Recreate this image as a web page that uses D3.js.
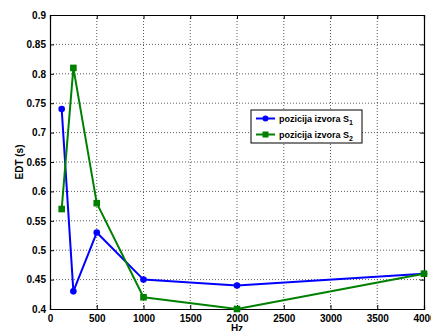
<!DOCTYPE html>
<html>
<head>
<meta charset="utf-8">
<script src="https://cdn.jsdelivr.net/npm/d3@7"></script>
<style>
  html, body { margin: 0; padding: 0; background: #fff; }
  svg { display: block; }
  text { font-family: "Liberation Sans", Arial, Helvetica, sans-serif; font-weight: bold; fill: #000; }
</style>
</head>
<body>
<svg id="chart" width="431" height="331"></svg>
<script>
// Frequencies (Hz) and early decay times (s) per source position
const frequencies = [125, 250, 500, 1000, 2000, 4000];
const edtS1 = [0.74, 0.43, 0.53, 0.45, 0.44, 0.46];
const edtS2 = [0.57, 0.81, 0.58, 0.42, 0.40, 0.46];
const xTicks = [0, 500, 1000, 1500, 2000, 2500, 3000, 3500, 4000];
const yTicks = [0.4, 0.45, 0.5, 0.55, 0.6, 0.65, 0.7, 0.75, 0.8, 0.85, 0.9];
const seriesNames = ["pozicija izvora S", "pozicija izvora S"];
const seriesSubs = ["1", "2"];
const seriesColors = ["#0000ff", "#008000"];

const svg = d3.select("#chart");
const m = { left: 50, top: 15, right: 424, bottom: 309 };

const x = d3.scaleLinear().domain([0, 4000]).range([m.left, m.right]);
const y = d3.scaleLinear().domain([0.4, 0.9]).range([m.bottom, m.top]);

// dotted grid
const grid = svg.append("g").attr("stroke", "#333").attr("stroke-width", 0.8)
  .attr("stroke-dasharray", "1,2");
xTicks.slice(1, -1).forEach(t => {
  grid.append("line").attr("x1", x(t)).attr("x2", x(t)).attr("y1", m.top).attr("y2", m.bottom);
});
yTicks.slice(1, -1).forEach(t => {
  grid.append("line").attr("x1", m.left).attr("x2", m.right).attr("y1", y(t)).attr("y2", y(t));
});

// axes with inward ticks
const fmtY = d => d3.format("")(+d.toFixed(2));
const axB = svg.append("g").attr("transform", `translate(0,${m.bottom})`)
  .call(d3.axisBottom(x).tickValues(xTicks).tickSize(-4).tickPadding(6).tickFormat(d3.format("d")));
const axT = svg.append("g").attr("transform", `translate(0,${m.top})`)
  .call(d3.axisTop(x).tickValues(xTicks).tickSize(-4).tickFormat(""));
const axL = svg.append("g").attr("transform", `translate(${m.left},0)`)
  .call(d3.axisLeft(y).tickValues(yTicks).tickSize(-4).tickPadding(4).tickFormat(fmtY));
const axR = svg.append("g").attr("transform", `translate(${m.right},0)`)
  .call(d3.axisRight(y).tickValues(yTicks).tickSize(-4).tickFormat(""));
[axB, axT, axL, axR].forEach(a => {
  a.select(".domain").attr("stroke", "#000").attr("stroke-width", 1.2);
  a.selectAll(".tick line").attr("stroke", "#000");
  a.selectAll("text").attr("font-size", 10).attr("font-family", null).attr("fill", "#000");
});

// axis titles
svg.append("text").attr("x", x(2000)).attr("y", 332).attr("text-anchor", "middle")
  .attr("font-size", 10).text("Hz");
svg.append("text").attr("transform", `translate(23,${(m.top + m.bottom) / 2}) rotate(-90)`)
  .attr("text-anchor", "middle").attr("font-size", 10).text("EDT (s)");

// series
const line = d3.line().x((d, i) => x(frequencies[i])).y(d => y(d));
const plot = svg.append("g");
[edtS1, edtS2].forEach((vals, k) => {
  plot.append("path").datum(vals).attr("d", line).attr("fill", "none")
    .attr("stroke", seriesColors[k]).attr("stroke-width", 2).attr("stroke-linejoin", "round");
  vals.forEach((v, i) => {
    if (k === 0) {
      plot.append("circle").attr("cx", x(frequencies[i])).attr("cy", y(v)).attr("r", 3.3)
        .attr("fill", seriesColors[k]);
    } else {
      plot.append("rect").attr("x", x(frequencies[i]) - 3.3).attr("y", y(v) - 3.3)
        .attr("width", 6.6).attr("height", 6.6).attr("fill", seriesColors[k]);
    }
  });
});

// legend
const lg = svg.append("g").attr("transform", "translate(251,110)");
lg.append("rect").attr("width", 111).attr("height", 33).attr("fill", "#fff")
  .attr("stroke", "#000").attr("stroke-width", 1);
seriesNames.forEach((name, k) => {
  const cy = 8.5 + k * 16;
  lg.append("line").attr("x1", 5).attr("x2", 24).attr("y1", cy).attr("y2", cy)
    .attr("stroke", seriesColors[k]).attr("stroke-width", 2);
  if (k === 0) lg.append("circle").attr("cx", 14.5).attr("cy", cy).attr("r", 3).attr("fill", seriesColors[k]);
  else lg.append("rect").attr("x", 11.5).attr("y", cy - 3).attr("width", 6).attr("height", 6).attr("fill", seriesColors[k]);
  const t = lg.append("text").attr("x", 28).attr("y", cy + 3.2).attr("font-size", 9).text(name);
  t.append("tspan").attr("font-size", 7).attr("dy", 3).text(seriesSubs[k]);
});
</script>
</body>
</html>
